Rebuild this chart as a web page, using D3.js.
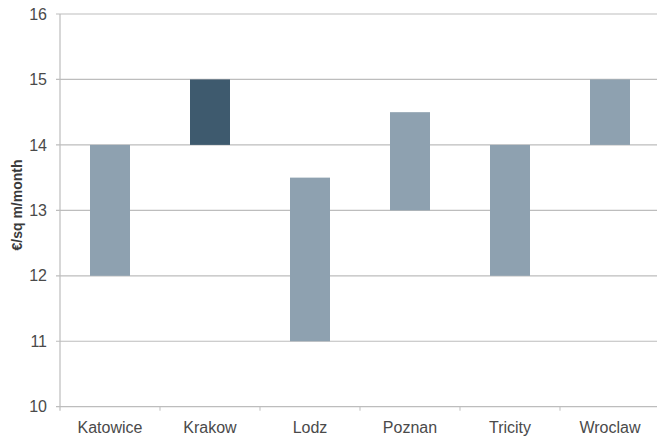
<!DOCTYPE html>
<html>
<head>
<meta charset="utf-8">
<script src="https://cdn.jsdelivr.net/npm/d3@7.9.0/dist/d3.min.js"></script>
<style>
  body { margin: 0; background: #fff; }
  svg { display: block; font-family: "Liberation Sans", Arial, sans-serif; }
</style>
</head>
<body>
<svg id="chart" width="657" height="437"></svg>
<script>
const cities = ['Katowice', 'Krakow', 'Lodz', 'Poznan', 'Tricity', 'Wroclaw'];
const rentLow = [12, 14, 11, 13, 12, 14];
const rentHigh = [14, 15, 13.5, 14.5, 14, 15];
const highlight = ['Krakow'];
const yTicks = [10, 11, 12, 13, 14, 15, 16];

const svg = d3.select('#chart');
const margin = { top: 14, left: 60 };
const plotW = 600;
const plotH = 392.7;

const x = d3.scaleBand().domain(cities).range([margin.left, margin.left + plotW]);
const y = d3.scaleLinear().domain([10, 16]).range([margin.top + plotH, margin.top]);

// gridlines
svg.append('g')
  .selectAll('line')
  .data(yTicks)
  .join('line')
  .attr('x1', margin.left - 4)
  .attr('x2', margin.left + plotW)
  .attr('y1', (d) => y(d))
  .attr('y2', (d) => y(d))
  .attr('stroke', '#bdbdbd')
  .attr('stroke-width', 1.2);

// y axis line
svg.append('line')
  .attr('x1', margin.left).attr('x2', margin.left)
  .attr('y1', y(16)).attr('y2', y(10) + 4)
  .attr('stroke', '#bdbdbd')
  .attr('stroke-width', 1.2);

// bottom ticks between categories
svg.append('g')
  .selectAll('line')
  .data(cities.slice(1))
  .join('line')
  .attr('x1', (d) => x(d))
  .attr('x2', (d) => x(d))
  .attr('y1', y(10))
  .attr('y2', y(10) + 4)
  .attr('stroke', '#bdbdbd');

// y tick labels
svg.append('g')
  .selectAll('text')
  .data(yTicks)
  .join('text')
  .attr('x', margin.left - 13)
  .attr('y', (d) => y(d))
  .attr('dy', '0.35em')
  .attr('text-anchor', 'end')
  .attr('fill', '#4a4a4a')
  .attr('font-size', 16)
  .text((d) => d);

// x labels
svg.append('g')
  .selectAll('text')
  .data(cities)
  .join('text')
  .attr('x', (d) => x(d) + x.bandwidth() / 2)
  .attr('y', y(10) + 26)
  .attr('text-anchor', 'middle')
  .attr('fill', '#4a4a4a')
  .attr('font-size', 16)
  .text((d) => d);

// floating bars
const barW = 40;
svg.append('g')
  .selectAll('rect')
  .data(cities)
  .join('rect')
  .attr('x', (d) => x(d) + x.bandwidth() / 2 - barW / 2)
  .attr('y', (d, i) => y(rentHigh[i]))
  .attr('width', barW)
  .attr('height', (d, i) => y(rentLow[i]) - y(rentHigh[i]))
  .attr('fill', (d) => highlight.includes(d) ? '#3e5a6e' : '#8ea1b0');

// y axis title
svg.append('text')
  .attr('transform', `translate(22, 205) rotate(-90)`)
  .attr('text-anchor', 'middle')
  .attr('fill', '#3a3a3a')
  .attr('font-size', 14)
  .attr('font-weight', 'bold')
  .text('€/sq m/month');
</script>
</body>
</html>
